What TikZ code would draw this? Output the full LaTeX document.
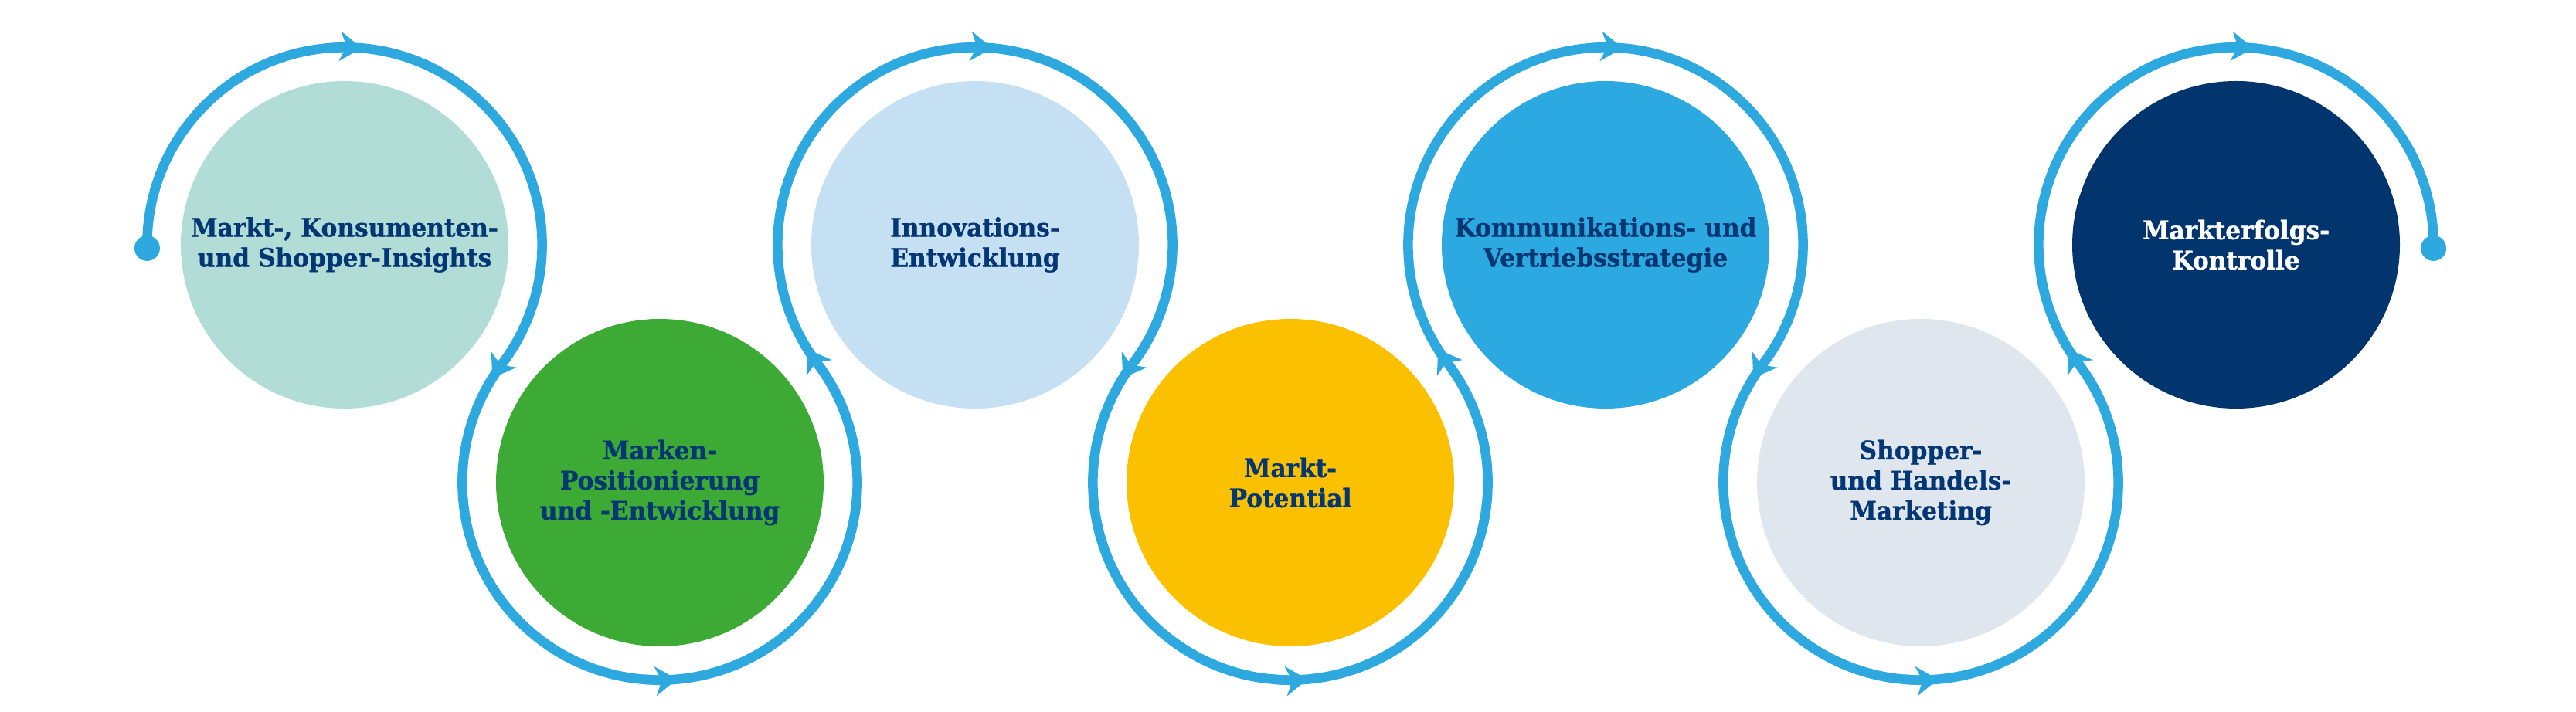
\documentclass[tikz,border=0pt]{standalone}
\usepackage{fontspec}
\setmainfont{DejaVu Serif}[FakeStretch=0.945, BoldFeatures={FakeBold=1.0}]
\usetikzlibrary{arrows.meta,calc}
\definecolor{ringc}{HTML}{2DA9E0}
\definecolor{txtc}{HTML}{023773}
\definecolor{fa}{HTML}{B2DCD6}
\definecolor{fb}{HTML}{3DAA35}
\definecolor{fc}{HTML}{C6E0F3}
\definecolor{fd}{HTML}{FBC100}
\definecolor{fe}{HTML}{2DA9E1}
\definecolor{ff}{HTML}{DFE6EE}
\definecolor{fg}{HTML}{02356E}
\def\ringR{2.556}
\begin{document}
\begin{tikzpicture}
\useasboundingbox (0,0) rectangle (33.34,9.22);
\tikzset{
  stage/.style={circle, minimum size=4.24cm, inner sep=0pt, align=center,
    font=\bfseries\fontsize{9.4}{11.1}\selectfont, text=txtc},
  ring/.style={draw=ringc, line width=0.125cm},
  arr/.style={ring, -{Stealth[length=0.28cm,width=0.38cm,inset=0.08cm]}},
}
\node[stage, fill=fa] (n1) at (4.46,6.05) {Markt-, Konsumenten-\\und Shopper-Insights};
\node[stage, fill=fb] (n2) at (8.54,2.97) {Marken-\\Positionierung\\und -Entwicklung};
\node[stage, fill=fc] (n3) at (12.62,6.05) {Innovations-\\Entwicklung};
\node[stage, fill=fd] (n4) at (16.70,2.97) {Markt-\\Potential};
\node[stage, fill=fe] (n5) at (20.78,6.05) {Kommunikations- und\\Vertriebsstrategie};
\node[stage, fill=ff] (n6) at (24.86,2.97) {Shopper-\\und Handels-\\Marketing};
\node[stage, fill=fg, text=white] (n7) at (28.94,6.05) {Markterfolgs-\\Kontrolle};

% rings
\draw[ring] ([shift={(181:\ringR)}]n1.center) arc[start angle=181, end angle=-37.05, radius=\ringR];
\draw[ring] ([shift={(142.95:\ringR)}]n2.center) arc[start angle=142.95, end angle=397.05, radius=\ringR];
\draw[ring] ([shift={(217.05:\ringR)}]n3.center) arc[start angle=217.05, end angle=-37.05, radius=\ringR];
\draw[ring] ([shift={(142.95:\ringR)}]n4.center) arc[start angle=142.95, end angle=397.05, radius=\ringR];
\draw[ring] ([shift={(217.05:\ringR)}]n5.center) arc[start angle=217.05, end angle=-37.05, radius=\ringR];
\draw[ring] ([shift={(142.95:\ringR)}]n6.center) arc[start angle=142.95, end angle=397.05, radius=\ringR];
\draw[ring] ([shift={(217.05:\ringR)}]n7.center) arc[start angle=217.05, end angle=-1, radius=\ringR];

% end dots
\coordinate (dotA) at ([shift={(181:\ringR)}]n1.center);
\coordinate (dotB) at ([shift={(-1:\ringR)}]n7.center);
\fill[ringc] (dotA) circle[radius=0.165];
\fill[ringc] (dotB) circle[radius=0.165];

% arrowheads: top of clockwise rings
\foreach \n in {n1,n3,n5,n7}{
  \draw[arr] ([shift={(95:\ringR)}]\n.center) arc[start angle=95, end angle=85, radius=\ringR];
}
% arrowheads: bottom of counterclockwise rings and junctions
\foreach \n in {n2,n4,n6}{
  \draw[arr] ([shift={(265:\ringR)}]\n.center) arc[start angle=265, end angle=275, radius=\ringR];
  \draw[arr] ([shift={(143:\ringR)}]\n.center) arc[start angle=143, end angle=148, radius=\ringR];
}
\foreach \n in {n3,n5,n7}{
  \draw[arr] ([shift={(217:\ringR)}]\n.center) arc[start angle=217, end angle=212, radius=\ringR];
}
\end{tikzpicture}
\end{document}
